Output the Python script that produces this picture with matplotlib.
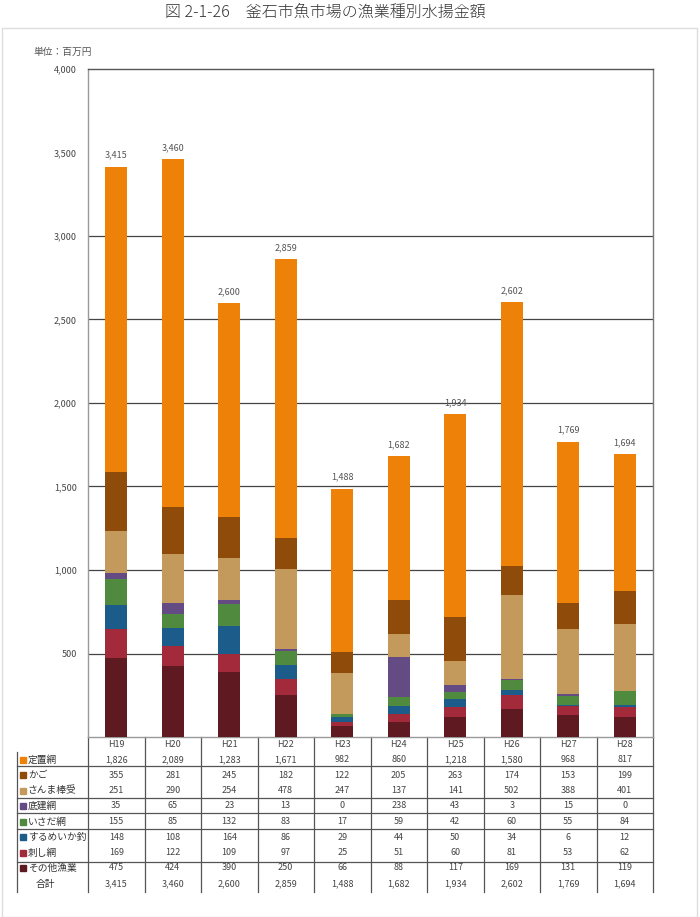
import numpy as np
import matplotlib
matplotlib.use('Agg')
from matplotlib import pyplot as plt
from matplotlib import transforms
from matplotlib.patches import Rectangle

plt.rcParams['font.family'] = ['Noto Sans CJK JP', 'DejaVu Sans']

years = ['H19', 'H20', 'H21', 'H22', 'H23', 'H24', 'H25', 'H26', 'H27', 'H28']

# bottom -> top stacking order
sonota = [475, 424, 390, 250, 66, 88, 117, 169, 131, 119]
sashiami = [169, 122, 109, 97, 25, 51, 60, 81, 53, 62]
surume = [148, 108, 164, 86, 29, 44, 50, 34, 6, 12]
isada = [155, 85, 132, 83, 17, 59, 42, 60, 55, 84]
sokodate = [35, 65, 23, 13, 0, 238, 43, 3, 15, 0]
sanma = [251, 290, 254, 478, 247, 137, 141, 502, 388, 401]
kago = [355, 281, 245, 182, 122, 205, 263, 174, 153, 199]
teichi = [1826, 2089, 1283, 1671, 982, 860, 1218, 1580, 968, 817]
totals = [3415, 3460, 2600, 2859, 1488, 1682, 1934, 2602, 1769, 1694]

stack = [
    ('その他漁業', sonota, '#5e1a20'),
    ('刺し網', sashiami, '#a32a3a'),
    ('するめいか釣', surume, '#1b5c8a'),
    ('いさだ網', isada, '#4f8a3e'),
    ('底建網', sokodate, '#644b84'),
    ('さんま棒受', sanma, '#c49a5c'),
    ('かご', kago, '#8e4b0a'),
    ('定置網', teichi, '#ee8208'),
]

W, H = 700, 917
fig = plt.figure(figsize=(W / 100, H / 100), dpi=100)


def fy(py):
    return 1 - py / H


ax = fig.add_axes([88 / W, fy(737), (653 - 88) / W, (737 - 69) / H])
x = np.arange(len(years))
bottom = np.zeros(len(years))
for name, vals, color in stack:
    ax.bar(x, vals, width=0.39, bottom=bottom, color=color, zorder=3)
    bottom += np.array(vals)

for xi, t in zip(x, totals):
    ax.annotate(f'{t:,}', (xi, t), xytext=(0, 5), textcoords='offset points',
                ha='center', va='bottom', fontsize=6.5, color='#555555')

ax.set_xlim(-0.5, len(years) - 0.5)
ax.set_ylim(0, 4000)
ax.set_yticks(np.arange(500, 4001, 500))
ax.set_yticklabels([f'{v:,}' for v in range(500, 4001, 500)], fontsize=6.5, color='#444444')
ax.tick_params(axis='y', length=0, pad=8)
ax.set_xticks([])
for v in range(500, 3001, 500):
    ax.axhline(v, color='#444444', lw=0.9, zorder=1)
ax.spines['left'].set_color('#999999')
ax.spines['bottom'].set_color('#999999')
ax.spines['top'].set_color('#555555')
ax.spines['right'].set_color('#777777')
for s in ax.spines.values():
    s.set_linewidth(1.0)

# data table below the axes: x in data units, y in figure fraction
tr = transforms.blended_transform_factory(ax.transData, fig.transFigure)
unit = (653 - 88) / len(years)
left_edge = -0.5 - (88 - 17) / unit
line_kw = dict(color='#555555', lw=0.9, transform=tr, clip_on=False)

for k in range(len(years) + 1):
    ax.plot([k - 0.5, k - 0.5], [fy(737), fy(892)], **line_kw)
ax.plot([left_edge, left_edge], [fy(752), fy(892)], **line_kw)
for py in [766, 798, 813, 829, 862]:
    ax.plot([left_edge, len(years) - 0.5], [fy(py), fy(py)], **line_kw)

for xi, yr in zip(x, years):
    ax.text(xi, fy(744.5), yr, transform=tr, ha='center', va='center',
            fontsize=6.5, color='#444444')

rows = list(reversed(stack))
row_y = [759.5, 775, 790.5, 806, 821.5, 837, 852.5, 868]
for (name, vals, color), py in zip(rows, row_y):
    ax.plot([left_edge + 0.1], [fy(py)], marker='s', ms=4, color=color,
            transform=tr, clip_on=False)
    ax.text(left_edge + 0.19, fy(py), name, transform=tr, ha='left', va='center',
            fontsize=7, color='#333333')
    for xi, v in zip(x, vals):
        ax.text(xi, fy(py), f'{v:,}', transform=tr, ha='center', va='center',
                fontsize=6.5, color='#444444')

ax.text(left_edge + 0.33, fy(884), '合計', transform=tr, ha='left', va='center',
        fontsize=7, color='#333333')
for xi, t in zip(x, totals):
    ax.text(xi, fy(884), f'{t:,}', transform=tr, ha='center', va='center',
            fontsize=6.5, color='#444444')

fig.text(33 / W, fy(52), '単位：百万円', fontsize=7, color='#555555', va='center')
fig.text(325 / W, fy(12), '図 2-1-26　釜石市魚市場の漁業種別水揚金額', fontsize=11.5,
         color='#333333', ha='center', va='center', fontweight='light')

fig.patches.append(Rectangle((2 / W, 0), (697 - 2) / W, fy(28), transform=fig.transFigure,
                             fill=False, edgecolor='#dddddd', lw=1))

fig.savefig('out.png', dpi=100)
